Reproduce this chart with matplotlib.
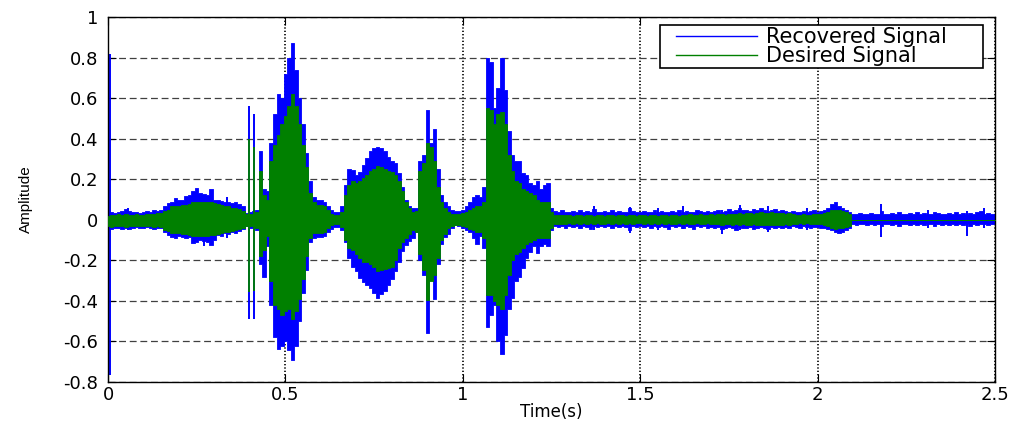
import numpy as np
import matplotlib
matplotlib.use("Agg")
import matplotlib.pyplot as plt
from matplotlib.lines import Line2D
from matplotlib.legend_handler import HandlerLine2D

# envelopes of the two signals, every 10 ms (0 .. 2.5 s)
time_s = np.linspace(0, 2.5, 251)

recovered_hi = [
    0.04, 0.04, 0.035, 0.04, 0.045, 0.055, 0.045, 0.04, 0.04, 0.035,
    0.04, 0.045, 0.04, 0.05, 0.045, 0.05, 0.066, 0.083, 0.09, 0.105,
    0.10, 0.10, 0.115, 0.12, 0.14, 0.156, 0.13, 0.125, 0.123, 0.15,
    0.10, 0.10, 0.095, 0.09, 0.09, 0.085, 0.09, 0.08, 0.066, 0.035,
    0.04, 0.045, 0.05, 0.34, 0.15, 0.14, 0.38, 0.52, 0.62, 0.60,
    0.72, 0.80, 0.87, 0.74, 0.60, 0.47, 0.33, 0.19, 0.11, 0.10,
    0.10, 0.09, 0.07, 0.05, 0.04, 0.04, 0.07, 0.17, 0.25, 0.245,
    0.22, 0.235, 0.27, 0.305, 0.34, 0.355, 0.36, 0.355, 0.34, 0.31,
    0.29, 0.28, 0.23, 0.16, 0.10, 0.07, 0.057, 0.06, 0.29, 0.32,
    0.54, 0.38, 0.45, 0.25, 0.12, 0.09, 0.07, 0.05, 0.045, 0.045,
    0.05, 0.07, 0.09, 0.11, 0.12, 0.11, 0.16, 0.80, 0.78, 0.55,
    0.65, 0.80, 0.64, 0.44, 0.32, 0.29, 0.29, 0.23, 0.22, 0.18,
    0.17, 0.19, 0.15, 0.17, 0.18, 0.06, 0.045, 0.04, 0.05, 0.04,
    0.04, 0.045, 0.04, 0.05, 0.04, 0.045, 0.04, 0.055, 0.04, 0.04,
    0.045, 0.04, 0.05, 0.04, 0.045, 0.04, 0.04, 0.06, 0.045, 0.04,
    0.04, 0.045, 0.04, 0.04, 0.05, 0.04, 0.045, 0.04, 0.04, 0.045,
    0.04, 0.05, 0.04, 0.045, 0.04, 0.04, 0.05, 0.045, 0.04, 0.045,
    0.04, 0.045, 0.05, 0.04, 0.045, 0.055, 0.045, 0.05, 0.06, 0.05,
    0.05, 0.045, 0.055, 0.05, 0.06, 0.05, 0.045, 0.05, 0.055, 0.045,
    0.05, 0.045, 0.04, 0.045, 0.04, 0.04, 0.045, 0.04, 0.045, 0.05,
    0.04, 0.045, 0.05, 0.06, 0.08, 0.09, 0.07, 0.06, 0.05, 0.04,
    0.03, 0.03, 0.035, 0.03, 0.03, 0.035, 0.03, 0.03, 0.045, 0.03,
    0.03, 0.035, 0.03, 0.04, 0.03, 0.03, 0.035, 0.03, 0.04, 0.03,
    0.035, 0.03, 0.03, 0.04, 0.035, 0.03, 0.03, 0.035, 0.03, 0.04,
    0.03, 0.035, 0.03, 0.035, 0.03, 0.04, 0.045, 0.03, 0.035, 0.03,
    0.03,
]
recovered_lo = [
    -0.04, -0.045, -0.04, -0.04, -0.045, -0.04, -0.045, -0.04, -0.035, -0.04,
    -0.04, -0.035, -0.04, -0.045, -0.04, -0.04, -0.06, -0.074, -0.083, -0.09,
    -0.08, -0.085, -0.09, -0.085, -0.115, -0.11, -0.10, -0.105, -0.11, -0.124,
    -0.10, -0.075, -0.08, -0.066, -0.07, -0.06, -0.065, -0.055, -0.045, -0.03,
    -0.04, -0.04, -0.05, -0.22, -0.28, -0.13, -0.42, -0.58, -0.635, -0.62,
    -0.60, -0.64, -0.69, -0.62, -0.50, -0.36, -0.25, -0.11, -0.09, -0.085,
    -0.083, -0.08, -0.06, -0.045, -0.035, -0.035, -0.05, -0.11, -0.19, -0.235,
    -0.255, -0.285, -0.305, -0.32, -0.337, -0.36, -0.385, -0.365, -0.35, -0.32,
    -0.29, -0.255, -0.206, -0.156, -0.124, -0.107, -0.09, -0.06, -0.20, -0.27,
    -0.56, -0.29, -0.39, -0.22, -0.12, -0.085, -0.07, -0.04, -0.025, -0.03,
    -0.04, -0.05, -0.06, -0.09, -0.12, -0.08, -0.14, -0.53, -0.47, -0.42,
    -0.60, -0.66, -0.57, -0.44, -0.387, -0.30, -0.28, -0.24, -0.19, -0.16,
    -0.13, -0.165, -0.13, -0.12, -0.13, -0.05, -0.03, -0.035, -0.03, -0.04,
    -0.03, -0.035, -0.03, -0.04, -0.03, -0.035, -0.045, -0.03, -0.035, -0.03,
    -0.035, -0.03, -0.04, -0.03, -0.035, -0.03, -0.035, -0.05, -0.03, -0.035,
    -0.03, -0.035, -0.03, -0.04, -0.03, -0.035, -0.03, -0.035, -0.045, -0.03,
    -0.035, -0.03, -0.04, -0.03, -0.035, -0.045, -0.03, -0.035, -0.03, -0.04,
    -0.035, -0.04, -0.035, -0.045, -0.04, -0.035, -0.04, -0.05, -0.035, -0.04,
    -0.04, -0.035, -0.045, -0.04, -0.035, -0.04, -0.045, -0.035, -0.04, -0.035,
    -0.04, -0.035, -0.04, -0.03, -0.035, -0.04, -0.03, -0.035, -0.04, -0.035,
    -0.035, -0.04, -0.04, -0.045, -0.05, -0.06, -0.066, -0.06, -0.05, -0.04,
    -0.02, -0.025, -0.02, -0.02, -0.025, -0.02, -0.025, -0.02, -0.03, -0.02,
    -0.02, -0.025, -0.02, -0.03, -0.02, -0.02, -0.025, -0.02, -0.025, -0.02,
    -0.025, -0.02, -0.02, -0.03, -0.02, -0.025, -0.02, -0.025, -0.02, -0.025,
    -0.02, -0.025, -0.02, -0.03, -0.02, -0.025, -0.02, -0.02, -0.025, -0.02,
    -0.02,
]
desired_hi = [
    0.02, 0.025, 0.025, 0.03, 0.025, 0.03, 0.025, 0.025, 0.03, 0.025,
    0.025, 0.03, 0.03, 0.03, 0.035, 0.035, 0.041, 0.05, 0.066, 0.07,
    0.07, 0.074, 0.075, 0.08, 0.09, 0.09, 0.09, 0.09, 0.09, 0.088,
    0.085, 0.08, 0.075, 0.07, 0.066, 0.06, 0.057, 0.055, 0.045, 0.03,
    0.03, 0.03, 0.04, 0.24, 0.12, 0.10, 0.29, 0.37, 0.42, 0.47,
    0.51, 0.56, 0.62, 0.56, 0.47, 0.37, 0.26, 0.13, 0.09, 0.075,
    0.075, 0.07, 0.05, 0.03, 0.025, 0.025, 0.04, 0.12, 0.17, 0.19,
    0.18, 0.19, 0.205, 0.22, 0.24, 0.25, 0.263, 0.26, 0.25, 0.24,
    0.235, 0.22, 0.19, 0.14, 0.09, 0.06, 0.04, 0.045, 0.24, 0.28,
    0.38, 0.36, 0.29, 0.16, 0.09, 0.06, 0.04, 0.03, 0.03, 0.03,
    0.035, 0.04, 0.05, 0.06, 0.07, 0.07, 0.09, 0.55, 0.54, 0.47,
    0.52, 0.53, 0.47, 0.32, 0.24, 0.19, 0.18, 0.15, 0.14, 0.13,
    0.12, 0.10, 0.09, 0.09, 0.09, 0.04, 0.025, 0.025, 0.025, 0.025,
    0.025, 0.02, 0.025, 0.025, 0.02, 0.025, 0.025, 0.02, 0.025, 0.025,
    0.02, 0.025, 0.025, 0.02, 0.025, 0.025, 0.02, 0.025, 0.025, 0.02,
    0.025, 0.025, 0.02, 0.025, 0.025, 0.02, 0.025, 0.025, 0.02, 0.025,
    0.025, 0.02, 0.025, 0.025, 0.03, 0.025, 0.025, 0.03, 0.025, 0.025,
    0.03, 0.025, 0.03, 0.03, 0.025, 0.03, 0.03, 0.03, 0.035, 0.03,
    0.035, 0.035, 0.03, 0.035, 0.04, 0.035, 0.035, 0.04, 0.035, 0.035,
    0.035, 0.03, 0.035, 0.03, 0.025, 0.025, 0.03, 0.025, 0.025, 0.03,
    0.03, 0.03, 0.035, 0.04, 0.05, 0.05, 0.05, 0.045, 0.04, 0.03,
    0.0, 0.0, 0.0, 0.0, 0.0, 0.0, 0.0, 0.0, 0.0, 0.0,
    0.0, 0.0, 0.0, 0.0, 0.0, 0.0, 0.0, 0.0, 0.0, 0.0,
    0.0, 0.0, 0.0, 0.0, 0.0, 0.0, 0.0, 0.0, 0.0, 0.0,
    0.0, 0.0, 0.0, 0.0, 0.0, 0.0, 0.0, 0.0, 0.0, 0.0,
    0.0,
]
desired_lo = [
    -0.03, -0.035, -0.03, -0.03, -0.03, -0.035, -0.03, -0.03, -0.03, -0.03,
    -0.03, -0.03, -0.03, -0.035, -0.03, -0.035, -0.05, -0.055, -0.066, -0.066,
    -0.066, -0.07, -0.07, -0.075, -0.08, -0.08, -0.08, -0.08, -0.08, -0.075,
    -0.075, -0.07, -0.065, -0.06, -0.06, -0.055, -0.05, -0.045, -0.04, -0.03,
    -0.03, -0.03, -0.04, -0.18, -0.15, -0.08, -0.30, -0.42, -0.44, -0.47,
    -0.45, -0.44, -0.49, -0.45, -0.39, -0.29, -0.18, -0.09, -0.066, -0.066,
    -0.066, -0.06, -0.04, -0.025, -0.02, -0.02, -0.035, -0.10, -0.14, -0.15,
    -0.17, -0.19, -0.206, -0.21, -0.22, -0.235, -0.255, -0.25, -0.245, -0.24,
    -0.235, -0.20, -0.14, -0.11, -0.09, -0.07, -0.05, -0.06, -0.17, -0.25,
    -0.394, -0.30, -0.27, -0.19, -0.10, -0.07, -0.04, -0.03, -0.025, -0.025,
    -0.03, -0.035, -0.045, -0.05, -0.06, -0.06, -0.09, -0.37, -0.37, -0.40,
    -0.42, -0.44, -0.37, -0.27, -0.20, -0.17, -0.16, -0.14, -0.12, -0.11,
    -0.10, -0.09, -0.09, -0.09, -0.09, -0.04, -0.02, -0.02, -0.02, -0.02,
    -0.018, -0.02, -0.015, -0.02, -0.018, -0.02, -0.015, -0.02, -0.018, -0.02,
    -0.02, -0.015, -0.02, -0.018, -0.02, -0.015, -0.02, -0.018, -0.02, -0.015,
    -0.018, -0.02, -0.015, -0.02, -0.018, -0.02, -0.015, -0.02, -0.018, -0.02,
    -0.02, -0.018, -0.02, -0.015, -0.02, -0.02, -0.018, -0.02, -0.02, -0.018,
    -0.02, -0.022, -0.02, -0.025, -0.02, -0.022, -0.025, -0.02, -0.025, -0.022,
    -0.025, -0.025, -0.022, -0.025, -0.028, -0.025, -0.025, -0.028, -0.025, -0.025,
    -0.025, -0.022, -0.025, -0.02, -0.02, -0.018, -0.02, -0.018, -0.02, -0.02,
    -0.02, -0.02, -0.025, -0.03, -0.04, -0.045, -0.04, -0.04, -0.035, -0.03,
    0.0, 0.0, 0.0, 0.0, 0.0, 0.0, 0.0, 0.0, 0.0, 0.0,
    0.0, 0.0, 0.0, 0.0, 0.0, 0.0, 0.0, 0.0, 0.0, 0.0,
    0.0, 0.0, 0.0, 0.0, 0.0, 0.0, 0.0, 0.0, 0.0, 0.0,
    0.0, 0.0, 0.0, 0.0, 0.0, 0.0, 0.0, 0.0, 0.0, 0.0,
    0.0,
]

# narrow spikes that fall between the 10 ms samples
recovered_spike_t = [0.006, 0.398, 0.412, 0.055, 0.27, 0.335, 1.37, 1.47, 1.55,
                     1.62, 1.73, 1.78, 1.86, 1.97, 2.18, 2.31, 2.42, 2.47]
recovered_spike_hi = [0.82, 0.56, 0.52, 0.06, 0.10, 0.11, 0.07, 0.065, 0.06,
                      0.07, 0.05, 0.075, 0.07, 0.06, 0.08, 0.05, 0.045, 0.06]
recovered_spike_lo = [-0.765, -0.49, -0.49, -0.05, -0.13, -0.09, -0.05, -0.065, -0.05,
                      -0.045, -0.07, -0.05, -0.06, -0.05, -0.085, -0.04, -0.08, -0.04]
desired_spike_t = [0.398, 0.412]
desired_spike_hi = [0.40, 0.36]
desired_spike_lo = [-0.354, -0.35]

x_ticks = [0, 0.5, 1, 1.5, 2, 2.5]
x_labels = ['0', '0.5', '1', '1.5', '2', '2.5']
y_ticks = [-0.8, -0.6, -0.4, -0.2, 0, 0.2, 0.4, 0.6, 0.8, 1]
y_labels = ['-0.8', '-0.6', '-0.4', '-0.2', '0', '0.2', '0.4', '0.6', '0.8', '1']

BLUE = '#0000ff'
GREEN = '#008000'

plt.rcParams['font.family'] = ['DejaVu Sans']

fig = plt.figure(figsize=(10.16, 4.21), dpi=100)
ax = fig.add_axes([0.1063, 0.0926, 0.8730, 0.8670])

# recovered signal (blue) first, desired (green) on top
ax.fill_between(time_s, recovered_lo, recovered_hi, step='mid',
                color=BLUE, linewidth=0.6, zorder=2)
ax.vlines(recovered_spike_t, recovered_spike_lo, recovered_spike_hi,
          color=BLUE, linewidth=1.4, zorder=2)
ax.fill_between(time_s, desired_lo, desired_hi, step='mid',
                color=GREEN, linewidth=0.6, zorder=3)
ax.vlines(desired_spike_t, desired_spike_lo, desired_spike_hi,
          color=GREEN, linewidth=1.3, zorder=3)

ax.set_xlim(0, 2.5)
ax.set_ylim(-0.8, 1)
ax.set_xticks(x_ticks)
ax.set_xticklabels(x_labels)
ax.set_yticks(y_ticks)
ax.set_yticklabels(y_labels)
ax.tick_params(direction='in', length=6, width=0.8, top=True, right=True,
               labelsize=13, colors='black')
ax.tick_params(axis='y', pad=7)
ax.tick_params(axis='x', pad=3)

# MATLAB style grid: dashed horizontals, dotted verticals, under the data
ax.set_axisbelow(True)
ax.yaxis.grid(True, color='#404040', linewidth=0.9, linestyle=(0, (5.5, 3.0)))
ax.xaxis.grid(True, color='black', linewidth=1.2, linestyle=(0, (0.8, 1.2)))

for sp in ax.spines.values():
    sp.set_linewidth(1.0)
    sp.set_color('black')

ax.set_xlabel('Time(s)', fontsize=12, labelpad=-1)
ax.set_ylabel('Amplitude', fontsize=11,
              family=['Liberation Sans', 'DejaVu Sans'])
ax.yaxis.set_label_coords(-0.085, 0.5)

handles = [Line2D([], [], color=BLUE, linewidth=1.0),
           Line2D([], [], color=GREEN, linewidth=1.0)]
leg = ax.legend(handles, ['Recovered Signal', 'Desired Signal'],
                loc='upper left', bbox_to_anchor=(0.6223, 0.878, 0.3641, 0.1),
                mode='expand', fontsize=15, handlelength=4.57,
                handletextpad=0.43, borderpad=0.1, labelspacing=-0.05,
                fancybox=False, framealpha=1, edgecolor='black',
                borderaxespad=0,
                handler_map={Line2D: HandlerLine2D(xpad=0.67)})
leg.get_frame().set_linewidth(1.2)

fig.savefig('out.png', dpi=100)
